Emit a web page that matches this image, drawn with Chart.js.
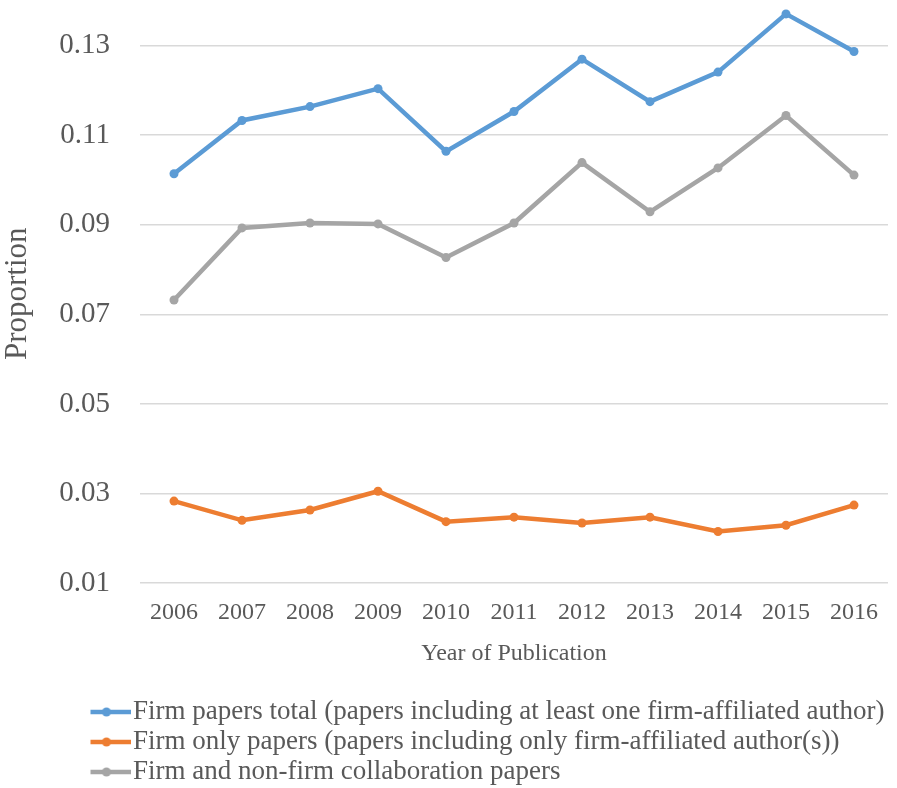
<!DOCTYPE html>
<html>
<head>
<meta charset="utf-8">
<script src="https://cdn.jsdelivr.net/npm/chart.js@4.4.0/dist/chart.umd.min.js"></script>
<style>
  body { margin: 0; background: #fff; }
  #wrap { width: 897px; height: 788px; }
</style>
</head>
<body>
<div id="wrap"><canvas id="firmChart"></canvas></div>
<script>
// values
const years = ['2006', '2007', '2008', '2009', '2010', '2011', '2012', '2013', '2014', '2015', '2016'];
const firmTotal = [0.1014, 0.1133, 0.1164, 0.1204, 0.1064, 0.1153, 0.1270, 0.1175, 0.1241, 0.1371, 0.1287];
const firmOnly = [0.0283, 0.0240, 0.0263, 0.0305, 0.0237, 0.0247, 0.0234, 0.0247, 0.0215, 0.0229, 0.0274];
const collab = [0.0732, 0.0893, 0.0904, 0.0902, 0.0827, 0.0904, 0.1039, 0.0929, 0.1027, 0.1144, 0.1011];
const yTicks = [0.01, 0.03, 0.05, 0.07, 0.09, 0.11, 0.13];

const BLUE = '#5B9BD5';
const ORANGE = '#ED7D31';
const GREY = '#A5A5A5';
const TEXT = '#595959';
const FONT = "'Liberation Serif', 'Times New Roman', serif";

// legend marker: short line with a dot in the middle (Excel style)
function marker(color) {
    const c = document.createElement('canvas');
    c.width = 48;
    c.height = 12;
    const g = c.getContext('2d');
    g.strokeStyle = color;
    g.lineWidth = 4.5;
    g.beginPath();
    g.moveTo(0, 6);
    g.lineTo(48, 6);
    g.stroke();
    g.fillStyle = color;
    g.beginPath();
    g.arc(24, 6, 4.5, 0, Math.PI * 2);
    g.fill();
    return c;
}
const markers = [marker(BLUE), marker(ORANGE), marker(GREY)];

function series(label, data, color) {
    return {
        label: label,
        data: data,
        borderColor: color,
        backgroundColor: color,
        borderWidth: 4.5,
        pointRadius: 4.5,
        pointBorderWidth: 0,
        pointBackgroundColor: color,
        tension: 0,
        fill: false
    };
}

// nudge legend so it sits under the plot like the original
const legendShift = {
    id: 'legendShift',
    afterLayout(chart) {
        chart.legend.left += 90.5;
        chart.legend.top += 7.5;
    }
};

const ctx = document.getElementById('firmChart').getContext('2d');
const firmChart = new Chart(ctx, {
    type: 'line',
    data: {
        labels: years,
        datasets: [
            series('Firm papers total (papers including at least one firm-affiliated author)', firmTotal, BLUE),
            series('Firm only papers (papers including only firm-affiliated author(s))', firmOnly, ORANGE),
            series('Firm and non-firm collaboration papers', collab, GREY)
        ]
    },
    options: {
        responsive: true,
        maintainAspectRatio: false,
        animation: false,
        layout: { padding: { left: 0, right: 9, top: 0, bottom: 0 } },
        scales: {
            x: {
                offset: true,
                grid: { display: false, drawTicks: false },
                border: { display: false },
                ticks: {
                    color: TEXT,
                    padding: 13,
                    maxRotation: 0,
                    font: { family: FONT, size: 24, lineHeight: '34px' }
                },
                title: {
                    display: true,
                    text: 'Year of Publication',
                    color: TEXT,
                    padding: { top: 3, bottom: 26 },
                    font: { family: FONT, size: 24, lineHeight: '16px' }
                }
            },
            y: {
                min: 0.01,
                max: 0.1392,
                afterBuildTicks(scale) {
                    scale.ticks = yTicks.map(v => ({ value: v }));
                },
                // plot runs right up to the top edge in the original
                afterFit(scale) {
                    scale.paddingTop = 0;
                    scale.paddingBottom = 0;
                },
                grid: { color: '#D9D9D9', lineWidth: 1.5, drawTicks: false },
                border: { display: false },
                ticks: {
                    color: TEXT,
                    padding: 30,
                    font: { family: FONT, size: 29 },
                    callback: v => v.toFixed(2)
                },
                title: {
                    display: true,
                    text: 'Proportion',
                    color: TEXT,
                    padding: { top: 7, bottom: 0.25 },
                    font: { family: FONT, size: 31, lineHeight: '22px' }
                }
            }
        },
        plugins: {
            tooltip: { enabled: false },
            legend: {
                display: true,
                position: 'bottom',
                align: 'start',
                labels: {
                    color: TEXT,
                    usePointStyle: true,
                    pointStyleWidth: 26,
                    padding: 3,
                    font: { family: FONT, size: 27 },
                    generateLabels(chart) {
                        const items = Chart.defaults.plugins.legend.labels.generateLabels(chart);
                        items.forEach((it, i) => { it.pointStyle = markers[i]; });
                        return items;
                    }
                }
            }
        }
    },
    plugins: [legendShift]
});
</script>
</body>
</html>
